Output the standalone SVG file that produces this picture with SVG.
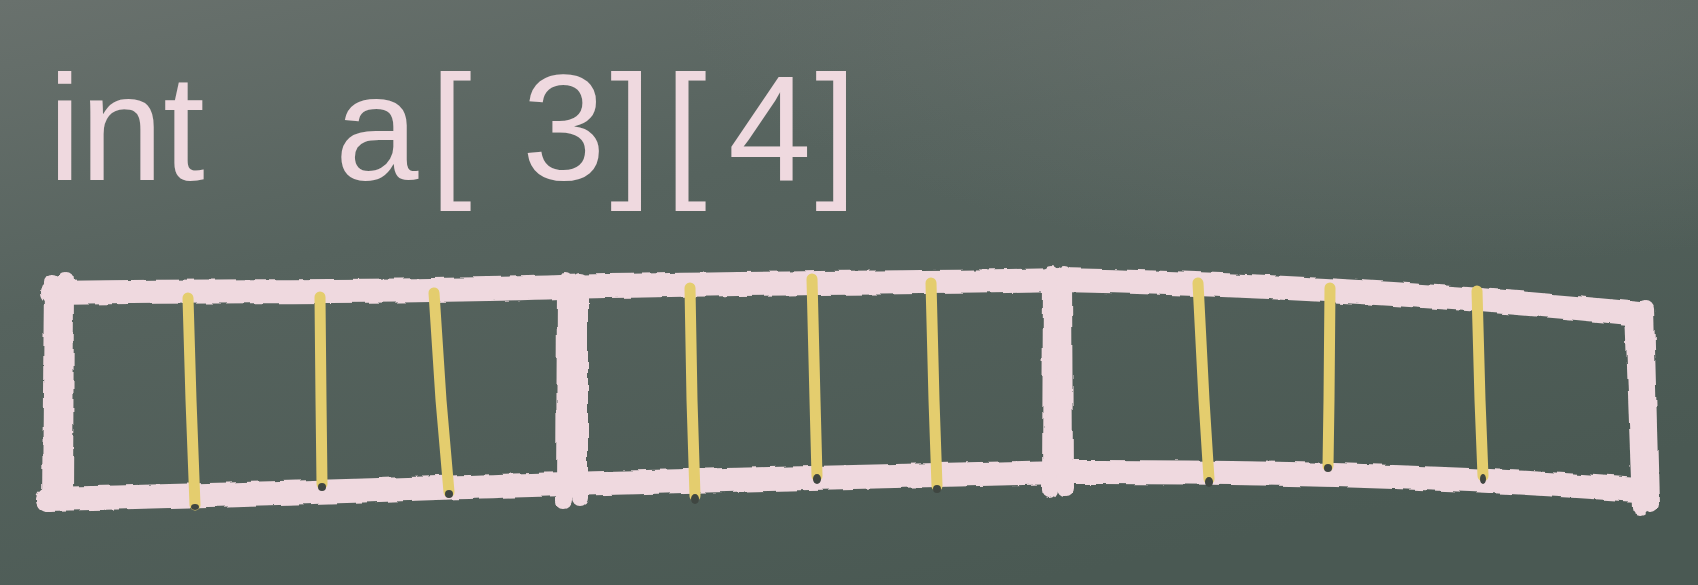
<svg xmlns="http://www.w3.org/2000/svg" width="1698" height="585" viewBox="0 0 1698 585">
  <defs>
    <linearGradient id="board" x1="0" y1="0" x2="0.6" y2="1">
      <stop offset="0" stop-color="#69716d"/>
      <stop offset="0.4" stop-color="#56635e"/>
      <stop offset="1" stop-color="#4a5953"/>
    </linearGradient>
    <radialGradient id="glow" cx="0.85" cy="0.0" r="0.45">
      <stop offset="0" stop-color="#737874" stop-opacity="0.6"/>
      <stop offset="1" stop-color="#737874" stop-opacity="0"/>
    </radialGradient>
    <filter id="rough" x="-5%" y="-5%" width="110%" height="110%">
      <feTurbulence type="fractalNoise" baseFrequency="0.06" numOctaves="2" seed="3" result="n"/>
      <feDisplacementMap in="SourceGraphic" in2="n" scale="5" xChannelSelector="R" yChannelSelector="G"/>
    </filter>
  </defs>
  <style>
    .chalk { fill: none; stroke: #efd9df; stroke-linecap: round; stroke-linejoin: round; }
    .bar { stroke-width: 24; }
    .post { stroke-width: 16; }
    .yel { fill: none; stroke: #e4cd6e; stroke-width: 11; stroke-linecap: round; }
    .tip { fill: #3f4641; }
    .txt { font-family: "Liberation Sans", Arial, sans-serif; font-size: 150px; fill: #efd9df; }
  </style>

  <rect x="0" y="0" width="1698" height="585" fill="url(#board)"/>
  <rect x="0" y="0" width="1698" height="585" fill="url(#glow)"/>

  <g id="declaration">
    <text class="txt" x="48 80 163 250 335 430 522 610 665 728 815" y="180">int a[3][4]</text>
  </g>

  <g id="array" filter="url(#rough)">
    <g id="top-edge">
      <path class="chalk bar" d="M 52 293 C 200 290 400 293 560 287 C 800 282 950 283 1060 280 C 1300 285 1500 300 1640 314"/>
    </g>
    <g id="bottom-edge">
      <path class="chalk bar" d="M 48 499 C 250 495 450 487 565 484 C 800 479 950 474 1060 472 C 1300 471 1500 480 1638 490"/>
    </g>
    <g id="row-0-start">
      <path class="chalk post" d="M 52 282 L 50 503"/>
      <path class="chalk post" d="M 66 280 L 65 501"/>
    </g>
    <g id="row-1-start">
      <path class="chalk post" d="M 565 281 L 564 500"/>
      <path class="chalk post" d="M 580 281 L 580 498"/>
    </g>
    <g id="row-2-start">
      <path class="chalk post" d="M 1051 274 L 1050 490"/>
      <path class="chalk post" d="M 1064 274 L 1065 488"/>
    </g>
    <g id="end">
      <path class="chalk post" d="M 1633 310 L 1640 508"/>
      <path class="chalk post" d="M 1646 308 L 1651 505"/>
    </g>
  </g>

  <g id="element-dividers">
    <path class="yel" d="M 188 298 L 191 400 L 195 505"/>
    <path class="yel" d="M 320 297 L 321 400 L 322 484"/>
    <path class="yel" d="M 434 293 L 441 400 L 449 492"/>
    <path class="yel" d="M 690 288 L 692 400 L 695 496"/>
    <path class="yel" d="M 812 279 L 815 400 L 817 476"/>
    <path class="yel" d="M 931 283 L 934 400 L 937 486"/>
    <path class="yel" d="M 1198 283 L 1204 400 L 1209 479"/>
    <path class="yel" d="M 1330 288 L 1329 400 L 1328 466"/>
    <path class="yel" d="M 1477 291 L 1480 400 L 1483 476"/>
    <ellipse class="tip" cx="195" cy="507" rx="4" ry="3"/>
    <ellipse class="tip" cx="322" cy="487" rx="4" ry="4"/>
    <ellipse class="tip" cx="449" cy="494" rx="4" ry="4"/>
    <ellipse class="tip" cx="695" cy="499" rx="4" ry="5"/>
    <ellipse class="tip" cx="817" cy="479" rx="4" ry="5"/>
    <ellipse class="tip" cx="937" cy="489" rx="4" ry="4"/>
    <ellipse class="tip" cx="1209" cy="482" rx="4" ry="5"/>
    <ellipse class="tip" cx="1328" cy="468" rx="4" ry="4"/>
    <ellipse class="tip" cx="1483" cy="479" rx="3" ry="5"/>
  </g>
</svg>
